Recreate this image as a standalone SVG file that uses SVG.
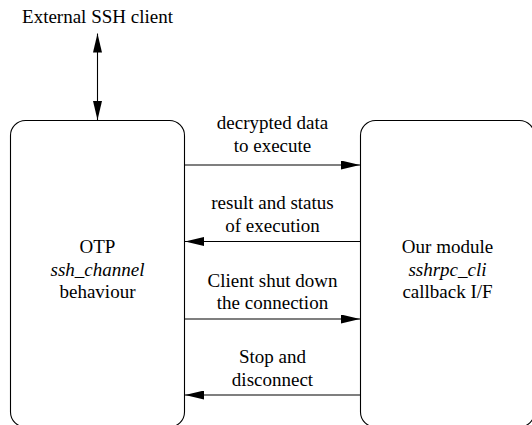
<svg xmlns="http://www.w3.org/2000/svg" width="532" height="425" viewBox="0 0 532 425">
<style>
text{font-family:'Liberation Serif','Times New Roman',serif;font-size:19px;fill:#000;text-anchor:middle}
.it{font-style:italic}
.box{fill:#fff;stroke:#000;stroke-width:1.1}
.conn{stroke:#000;stroke-width:1.1;fill:none}
</style>
<defs>
<marker id="ah" viewBox="0 0 19 9" refX="19" refY="4.5" markerWidth="19" markerHeight="9" markerUnits="userSpaceOnUse" orient="auto-start-reverse">
<path d="M0,0 L19,4.5 L0,9 z" fill="#000"/>
</marker>
</defs>
<rect width="532" height="425" fill="#fff"/>
<g id="external-ssh-client">
<text x="97.5" y="22.5">External SSH client</text>
</g>
<g id="otp-ssh-channel">
<rect class="box" x="10.5" y="120.5" width="174" height="306.5" rx="15" ry="15"/>
<text x="97.5" y="253">OTP</text>
<text class="it" x="97.5" y="275.5">ssh_channel</text>
<text x="97.5" y="298">behaviour</text>
</g>
<g id="sshrpc-cli-module">
<rect class="box" x="360.5" y="120.5" width="174" height="306.5" rx="15" ry="15"/>
<text x="447.5" y="253">Our module</text>
<text class="it" x="447.5" y="275.5">sshrpc_cli</text>
<text x="447.5" y="298">callback I/F</text>
</g>
<g id="connectors">
<line class="conn" x1="97.5" y1="33.5" x2="97.5" y2="120" marker-start="url(#ah)" marker-end="url(#ah)"/>
<line class="conn" x1="184.5" y1="165" x2="360" y2="165" marker-end="url(#ah)"/>
<line class="conn" x1="360.5" y1="241.5" x2="185" y2="241.5" marker-end="url(#ah)"/>
<line class="conn" x1="184.5" y1="319" x2="360" y2="319" marker-end="url(#ah)"/>
<line class="conn" x1="360.5" y1="395" x2="185" y2="395" marker-end="url(#ah)"/>
</g>
<g id="connector-labels">
<text x="272.5" y="129">decrypted data</text>
<text x="272.5" y="152">to execute</text>
<text x="272.5" y="208.5">result and status</text>
<text x="272.5" y="231.5">of execution</text>
<text x="272.5" y="286.5">Client shut down</text>
<text x="272.5" y="309">the connection</text>
<text x="272.5" y="362.5">Stop and</text>
<text x="272.5" y="385.5">disconnect</text>
</g>
</svg>
